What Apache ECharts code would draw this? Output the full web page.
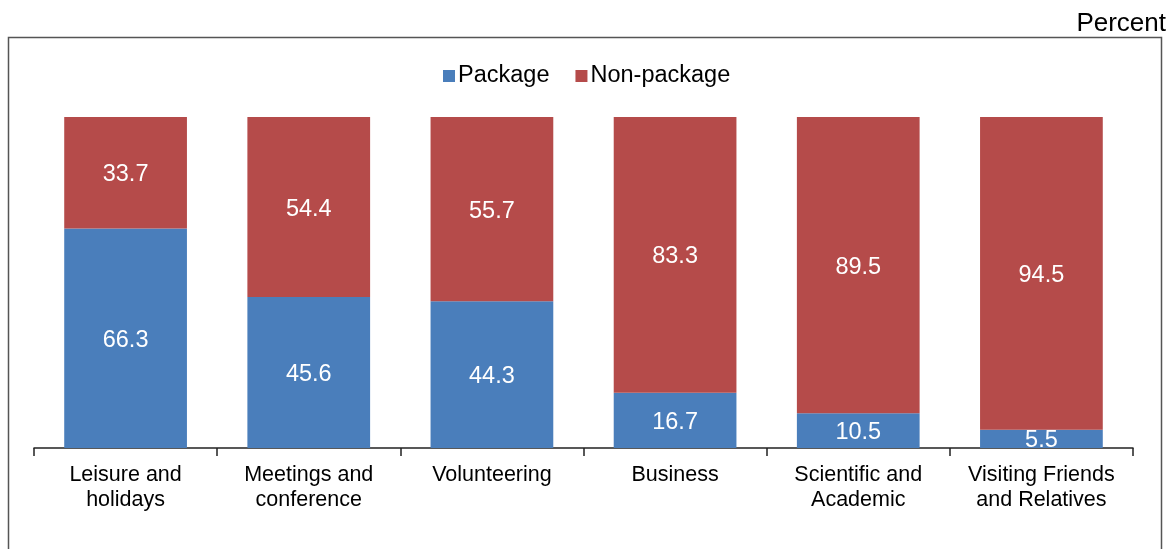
<!DOCTYPE html>
<html><head><meta charset="utf-8">
<script src="https://cdn.jsdelivr.net/npm/echarts@6/dist/echarts.min.js"></script>
<style>html,body{margin:0;padding:0;background:#fff}#c{width:1173px;height:549px}</style>
</head><body><div id="c"></div>
<script>
const categories = ["Leisure and\nholidays","Meetings and\nconference","Volunteering","Business","Scientific and\nAcademic","Visiting Friends\nand Relatives"];
const packageVals = [66.3, 45.6, 44.3, 16.7, 10.5, 5.5];
const nonPackageVals = [33.7, 54.4, 55.7, 83.3, 89.5, 94.5];
const seriesNames = ["Package", "Non-package"];
const unitLabel = "Percent";

const chart = echarts.init(document.getElementById('c'), null, {renderer:'canvas'});
const FONT = '"Liberation Sans", Arial, Helvetica, sans-serif';
const lbl = {show:true, position:'inside', offset:[0,2], color:'#fff', fontSize:23.5, fontFamily:FONT, formatter: p => p.value.toFixed(1)};
chart.setOption({
  animation:false,
  backgroundColor:'#fff',
  textStyle:{fontFamily:FONT},
  graphic:[
    {type:'rect', shape:{x:8.5, y:37.5, width:1153, height:530}, style:{fill:'none', stroke:'#555', lineWidth:1.5}},
    {type:'text', right:7, top:11, style:{text:unitLabel, fontSize:26, fontFamily:FONT, fill:'#000'}}
  ],
  legend:{top:59, left:438, itemWidth:12, itemHeight:12, itemGap:26, icon:'rect',
    textStyle:{fontSize:23.5, color:'#000', fontFamily:FONT, padding:[0,0,0,-2]}, data:seriesNames},
  grid:{left:34, right:40, top:117, bottom:101},
  xAxis:{type:'category', data:categories,
    axisLine:{lineStyle:{color:'#222', width:1.5}},
    axisTick:{show:true, inside:false, length:8, lineStyle:{color:'#222', width:1.5}},
    axisLabel:{fontSize:21.5, color:'#000', fontFamily:FONT, lineHeight:25, margin:15, interval:0}},
  yAxis:{type:'value', min:0, max:100, show:false, splitLine:{show:false}},
  series:[
    {name:seriesNames[0], type:'bar', stack:'s', data:packageVals, barWidth:'67%', itemStyle:{color:'#4A7EBB'}, label:lbl},
    {name:seriesNames[1], type:'bar', stack:'s', data:nonPackageVals, barWidth:'67%', itemStyle:{color:'#B54B4A'}, label:lbl}
  ]
});
</script></body></html>
